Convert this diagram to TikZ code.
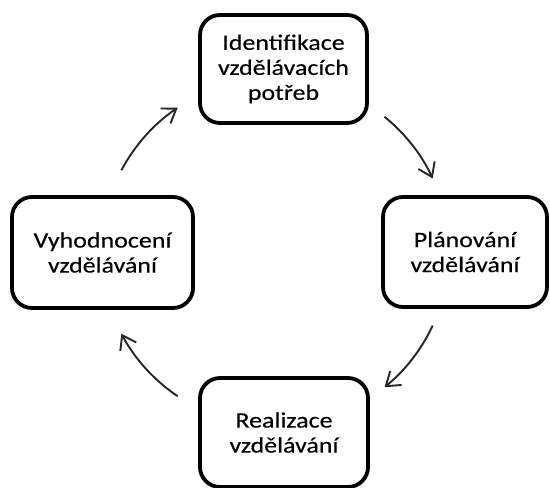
\documentclass[tikz,border=0pt]{standalone}
\usepackage{fontspec}
\setmainfont{Carlito}[FakeStretch=1.18, FakeBold=0.3]
\usetikzlibrary{arrows.meta,calc}
\tikzset{
  stage/.style={draw=black, line width=3.8pt, rounded corners=20pt, fill=white,
    align=center, inner sep=0pt, font=\fontsize{22}{25}\selectfont, text=black},
  cyc/.style={line width=1.9pt, draw=black!85, -{Straight Barb[length=13pt,width=18pt,line width=1.9pt]}}
}
\begin{document}
\begin{tikzpicture}[x=1pt,y=1pt]
\useasboundingbox (0,0) rectangle (550,488);
\node[stage, minimum width=167pt, minimum height=108pt] (top) at (283.5,419) {Identifikace\\vzdělávacích\\potřeb};
\node[stage, minimum width=181pt, minimum height=111pt] (left) at (102.5,235.5) {Vyhodnocení\\vzdělávání};
\node[stage, minimum width=164pt, minimum height=110pt] (right) at (465,236) {Plánování\\vzdělávání};
\node[stage, minimum width=168pt, minimum height=109pt] (bottom) at (284,55.5) {Realizace\\vzdělávání};
\coordinate (c) at (275,236);
\coordinate (a1) at ($(c)+(152:174)$);
\coordinate (a2) at ($(c)+(51:174)$);
\coordinate (a3) at ($(c)+(-25:174)$);
\coordinate (a4) at ($(c)+(236:174)$);
\draw[cyc] (a1) arc[start angle=152, end angle=124, radius=174];
\draw[cyc] (a2) arc[start angle=51, end angle=25, radius=174];
\draw[cyc] (a3) arc[start angle=-25, end angle=-51, radius=174];
\draw[cyc] (a4) arc[start angle=236, end angle=208, radius=174];
\end{tikzpicture}
\end{document}
